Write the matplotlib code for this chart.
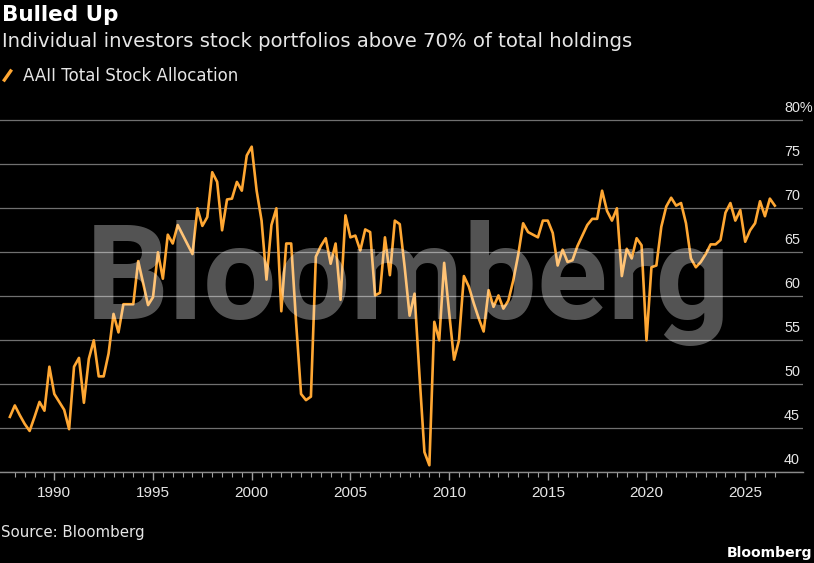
import numpy as np
import pandas as pd
import matplotlib
matplotlib.use("Agg")
import matplotlib.pyplot as plt
from matplotlib.lines import Line2D
from matplotlib.ticker import FixedLocator
import matplotlib.transforms as mtransforms

# ---------------- data (quarterly, 1987Q4 .. 2026Q3) ----------------
quarters = pd.period_range("1987Q4", "2026Q3", freq="Q")
stock_allocation = [
    46.3, 47.6, 46.5, 45.5, 44.7, 46.3, 48.0, 47.0, 52.0, 48.9,
    48.0, 47.1, 44.9, 52.0, 53.0, 47.9, 52.9, 55.0, 50.9, 50.9,
    53.5, 58.0, 55.9, 59.1, 59.1, 59.1, 64.0, 61.5, 59.0, 59.9,
    65.0, 62.0, 67.0, 66.0, 68.1, 67.0, 65.9, 64.8, 70.0, 68.0,
    69.0, 74.1, 73.0, 67.5, 71.0, 71.1, 73.0, 72.0, 76.0, 77.0,
    72.0, 68.6, 61.9, 68.1, 70.0, 58.3, 66.0, 66.0, 57.0, 48.9,
    48.2, 48.6, 64.5, 65.7, 66.6, 63.7, 66.0, 59.6, 69.2, 66.7,
    66.9, 65.2, 67.6, 67.3, 60.1, 60.4, 66.7, 62.4, 68.6, 68.2,
    63.3, 57.8, 60.3, 51.0, 42.3, 40.8, 57.1, 55.0, 63.8, 58.2,
    52.8, 55.0, 62.3, 61.1, 59.2, 57.5, 56.0, 60.7, 58.8, 60.1,
    58.6, 59.5, 61.8, 64.7, 68.3, 67.3, 67.0, 66.7, 68.6, 68.6,
    67.2, 63.5, 65.3, 63.9, 64.1, 65.7, 66.9, 68.1, 68.8, 68.8,
    72.0, 69.7, 68.6, 70.0, 62.3, 65.4, 64.3, 66.6, 65.8, 55.0,
    63.3, 63.5, 67.9, 70.2, 71.2, 70.3, 70.6, 68.3, 64.3, 63.3,
    63.9, 64.8, 65.9, 65.9, 66.4, 69.5, 70.6, 68.6, 69.8, 66.2,
    67.5, 68.3, 70.8, 69.1, 71.1, 70.3,
]
x_years = quarters.year + (quarters.quarter - 1) / 4.0

major_years = [1990, 1995, 2000, 2005, 2010, 2015, 2020, 2025]
y_ticks = [40, 45, 50, 55, 60, 65, 70, 75, 80]
y_labels = ["40", "45", "50", "55", "60", "65", "70", "75", "80%"]

title = "Bulled Up"
subtitle = "Individual investors stock portfolios above 70% of total holdings"
series_name = "AAII Total Stock Allocation"
source = "Source: Bloomberg"

# ---------------- style ----------------
ORANGE = "#FFA733"
BG = "black"
GRID = "#707070"
TXT = "#e6e6e6"
TICKFONT = ["Liberation Sans", "DejaVu Sans"]
plt.rcParams["font.family"] = ["DejaVu Sans"]

W, H = 814, 563
fig = plt.figure(figsize=(W / 100, H / 100), dpi=100, facecolor=BG)

ppy = 8.8  # pixels per percent
y_bottom_px = 472.3
ytop = 81
ax_h_px = (ytop - 40) * ppy
ax = fig.add_axes([0, (H - y_bottom_px) / H, 803 / W, ax_h_px / H])
ax.set_facecolor(BG)
x_left = 1990 - 54.3 / 19.74
x_right = 1990 + (803 - 54.3) / 19.74
ax.set_xlim(x_left, x_right)
ax.set_ylim(40, ytop)

for s in ["top", "left", "right"]:
    ax.spines[s].set_visible(False)
ax.spines["bottom"].set_color("#8a8a8a")
ax.spines["bottom"].set_linewidth(1.0)

# grid + y labels (inside, above each gridline)
ax.set_yticks(y_ticks)
ax.set_yticklabels(y_labels)
ax.yaxis.grid(True, color=GRID, linewidth=0.9)
ax.set_axisbelow(True)
ax.yaxis.tick_right()
ax.tick_params(axis="y", length=0, pad=-19 * 0.72, labelcolor=TXT, labelsize=10.4)
for lab in ax.get_yticklabels():
    lab.set_horizontalalignment("left")
    lab.set_family(TICKFONT)
    lab.set_transform(lab.get_transform() + mtransforms.ScaledTranslation(0, 0.14, fig.dpi_scale_trans))

# x ticks
ax.xaxis.set_major_locator(FixedLocator(major_years))
ax.set_xticklabels([str(y) for y in major_years])
minor = [y / 2 for y in range(1988 * 2, 2026 * 2 + 2)]
ax.xaxis.set_minor_locator(FixedLocator(minor))
ax.tick_params(axis="x", which="major", length=5.5, width=1.0, color="#a0a0a0",
               labelcolor=TXT, labelsize=11, pad=4.5)
ax.tick_params(axis="x", which="minor", length=3.3, width=0.8, color="#a0a0a0")
for lab in ax.get_xticklabels():
    lab.set_family(TICKFONT)

# line
ax.plot(x_years, stock_allocation, color=ORANGE, linewidth=1.9, solid_joinstyle="round",
        zorder=3, clip_on=False)

# watermark (drawn on top, semi-transparent)
fig.text(86 / W, 1 - 318.5 / H, "Bloomberg", fontsize=94, fontweight="bold",
         family=["Roboto", "DejaVu Sans"], color="white", alpha=0.33,
         ha="left", va="baseline", zorder=10)

# header
fig.text(2 / W, 1 - 21 / H, title, fontsize=15.5, fontweight="bold", color="white",
         ha="left", va="baseline")
fig.text(2 / W, 1 - 47 / H, subtitle, fontsize=14.15, color=TXT,
         ha="left", va="baseline")

# legend
handle = Line2D([], [], color=ORANGE, linestyle="none",
                marker=[(-0.7, -1.0), (0.7, 1.0)], markersize=8.5, markeredgewidth=2.4)
leg = fig.legend([handle], [series_name], loc="upper left",
                 bbox_to_anchor=(1 / W, 1 - 67 / H), frameon=False,
                 fontsize=12, handlelength=0.7, handletextpad=0.6,
                 labelcolor=TXT, borderaxespad=0, borderpad=0)

# footer
fig.text(1 / W, 1 - 537 / H, source, fontsize=10.8, color=TXT, ha="left", va="baseline")
fig.text(812 / W, 1 - 557 / H, "Bloomberg", fontsize=10.1, fontweight="bold",
         color="white", ha="right", va="baseline")

fig.savefig("out.png", dpi=100, facecolor=BG)
